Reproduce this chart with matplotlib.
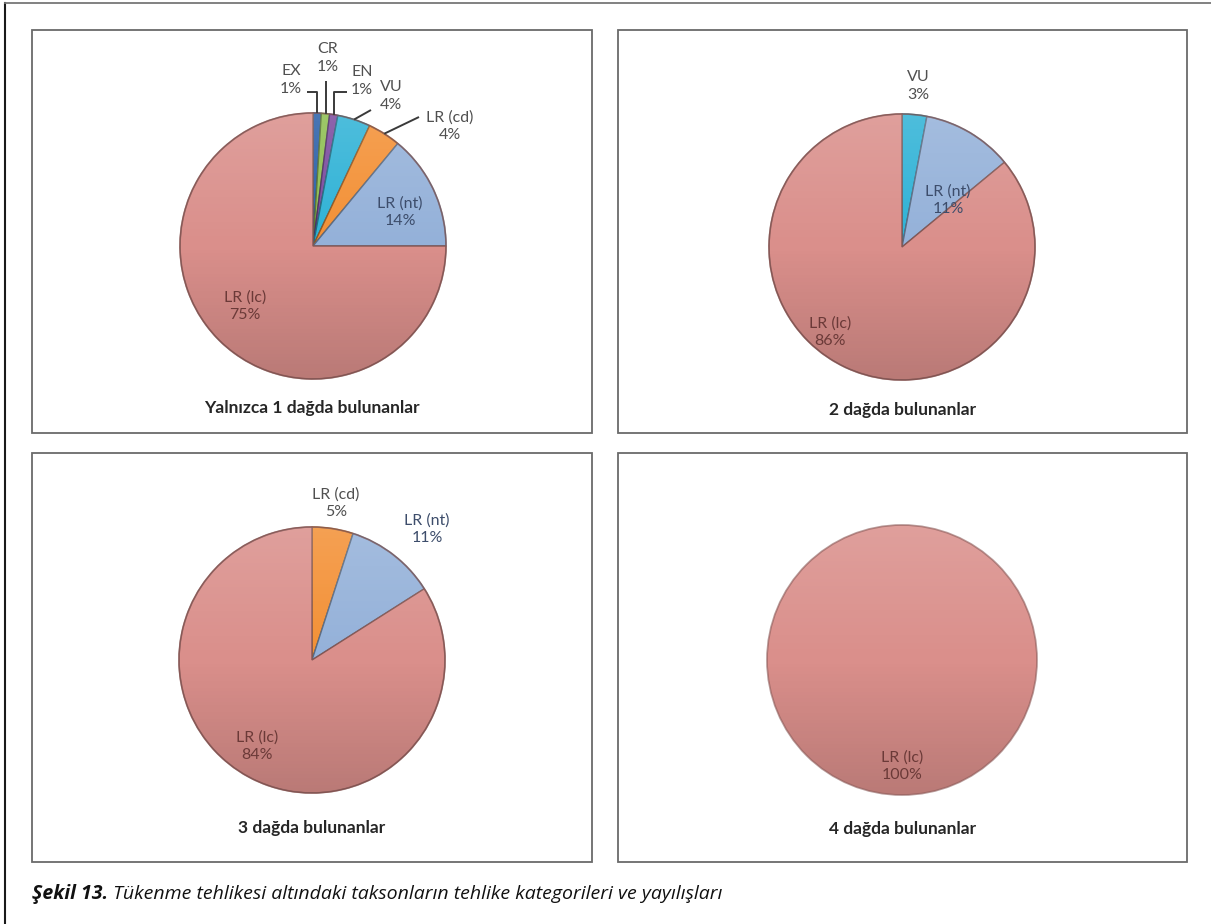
import numpy as np
import matplotlib
matplotlib.use("Agg")
import matplotlib.pyplot as plt
from matplotlib.patches import Rectangle, Circle
from matplotlib.colors import to_rgb

W, H = 1211, 924

# shares (%) of each threat category, one pie per number of mountains
cats_1 = ["EX", "CR", "EN", "VU", "LR (cd)", "LR (nt)", "LR (lc)"]
pcts_1 = [1, 1, 1, 4, 4, 14, 75]

cats_2 = ["VU", "LR (nt)", "LR (lc)"]
pcts_2 = [3, 11, 86]

cats_3 = ["LR (cd)", "LR (nt)", "LR (lc)"]
pcts_3 = [5, 11, 84]

cats_4 = ["LR (lc)"]
pcts_4 = [100]

titles = ["Yalnızca 1 dağda bulunanlar", "2 dağda bulunanlar",
          "3 dağda bulunanlar", "4 dağda bulunanlar"]

caption_bold = "Şekil 13."
caption_rest = " Tükenme tehlikesi altındaki taksonların tehlike kategorileri ve yayılışları"

COLORS = {
    "EX": "#2A5FA8",
    "CR": "#8DBE4F",
    "EN": "#7A4A9E",
    "VU": "#2FB2D6",
    "LR (cd)": "#F39035",
    "LR (nt)": "#94B1D9",
    "LR (lc)": "#DA8F8B",
}
TEXT_COLORS = {"LR (lc)": "#6B3A38", "LR (nt)": "#3D4D6B"}

# panel frames (pixels: x0, y0, x1, y1) and pie centre / radius
panels = [(32, 30, 592, 433), (618, 30, 1187, 433),
          (32, 453, 592, 862), (618, 453, 1187, 862)]
pies = [(313, 246, 133), (902, 247, 133), (312, 660, 133), (902, 660, 135)]
title_y = [408, 410, 828, 829]

# label centres in pixels
label_pos = [
    {"EX": (291, 80), "CR": (328, 58), "EN": (362, 81), "VU": (391, 96),
     "LR (cd)": (450, 126), "LR (nt)": (400, 212), "LR (lc)": (245, 306)},
    {"VU": (918, 86), "LR (nt)": (948, 200), "LR (lc)": (830, 332)},
    {"LR (cd)": (336, 503), "LR (nt)": (427, 529), "LR (lc)": (257, 746)},
    {"LR (lc)": (902, 766)},
]
# leader line start points (first pie only)
leaders = {"EX": (307, 92), "CR": (None, 81), "EN": (347, 92),
           "VU": (371, 110), "LR (cd)": (419, 117)}
elbow = {"EX", "CR", "EN"}

LABEL_FONT = dict(family="Lato", fontsize=11.5)


def darker(c, f=0.7):
    return tuple(v * f for v in to_rgb(c))


def shade(ax, cx, cy, r):
    # soft vertical light: brighter at top, darker at bottom
    t = np.linspace(0, 1, 512)
    rgba = np.zeros((512, 1, 4))
    upper = t < 0.5
    rgba[upper, 0, :3] = 1.0
    rgba[:, 0, 3] = np.where(upper, 0.15 * (1 - t / 0.5),
                             0.15 * (t - 0.5) / 0.5)
    im = ax.imshow(rgba, extent=(cx - r, cx + r, cy - r, cy + r),
                   origin="upper", interpolation="nearest", zorder=3)
    im.set_clip_path(Circle((cx, cy), r, transform=ax.transData))
    ax.add_patch(Circle((cx, cy), r, fill=False, lw=1.3,
                        ec="#8a5a58", alpha=0.6, zorder=4))


fig = plt.figure(figsize=(W / 100, H / 100), dpi=100)
ax = fig.add_axes([0, 0, 1, 1])

all_cats = [cats_1, cats_2, cats_3, cats_4]
all_pcts = [pcts_1, pcts_2, pcts_3, pcts_4]

for i, (cats, pcts) in enumerate(zip(all_cats, all_pcts)):
    cx, cy, r = pies[i]
    x0, y0, x1, y1 = panels[i]
    ax.add_patch(Rectangle((x0, H - y1), x1 - x0, y1 - y0, fill=False,
                           ec="#6a6a6a", lw=1.3, zorder=1))

    wedges, _ = ax.pie(pcts, startangle=90, counterclock=False,
                       center=(cx, H - cy), radius=r,
                       colors=[COLORS[c] for c in cats],
                       wedgeprops=dict(linewidth=1.0))
    for w, c in zip(wedges, cats):
        w.set_edgecolor(darker(COLORS[c], 0.6) if len(cats) > 1 else "none")
        w.set_zorder(2)
    shade(ax, cx, H - cy, r)

    cum = np.cumsum([0] + pcts)
    for j, c in enumerate(cats):
        lx, ly = label_pos[i][c]
        ax.text(lx, H - ly, f"{c}\n{pcts[j]}%", ha="center", va="center",
                color=TEXT_COLORS.get(c, "#505050"), linespacing=1.3,
                zorder=6, **LABEL_FONT)
        if i == 0 and c in leaders:
            mid = (cum[j] + cum[j + 1]) / 2 / 100
            ang = np.deg2rad(90 - 360 * mid)
            ex, ey = cx + r * np.cos(ang), cy - r * np.sin(ang)
            sx, sy = leaders[c]
            if sx is None:
                sx = ex
            if c in elbow:
                xs, ys = [sx, ex, ex], [sy, sy, ey]
            else:
                xs, ys = [sx, ex], [sy, ey]
            ax.plot(xs, [H - y for y in ys], color="#3a3a3a", lw=1.4,
                    zorder=5, solid_capstyle="butt")

    ax.text((x0 + x1) / 2, H - title_y[i], titles[i], ha="center",
            va="center", family="Lato", fontweight="bold", fontsize=12.5,
            color="#262626")

# outer frame: left and top edges
ax.plot([5, 5], [0, H - 3], color="#1a1a1a", lw=1.5)
ax.plot([5, W], [H - 3, H - 3], color="#777777", lw=1.3)

ax.set_xlim(0, W)
ax.set_ylim(0, H)
ax.set_aspect("equal")
ax.axis("off")

t1 = fig.text(32 / W, 1 - 894 / H, caption_bold, ha="left", va="center",
              family="Open Sans", style="italic", fontweight="bold",
              fontsize=14, color="#111111")
fig.canvas.draw()
bb = t1.get_window_extent(fig.canvas.get_renderer())
fig.text(bb.x1 / W, 1 - 894 / H, caption_rest, ha="left", va="center",
         family="Open Sans", style="italic", fontsize=14, color="#111111")

fig.savefig("out.png", dpi=100)
